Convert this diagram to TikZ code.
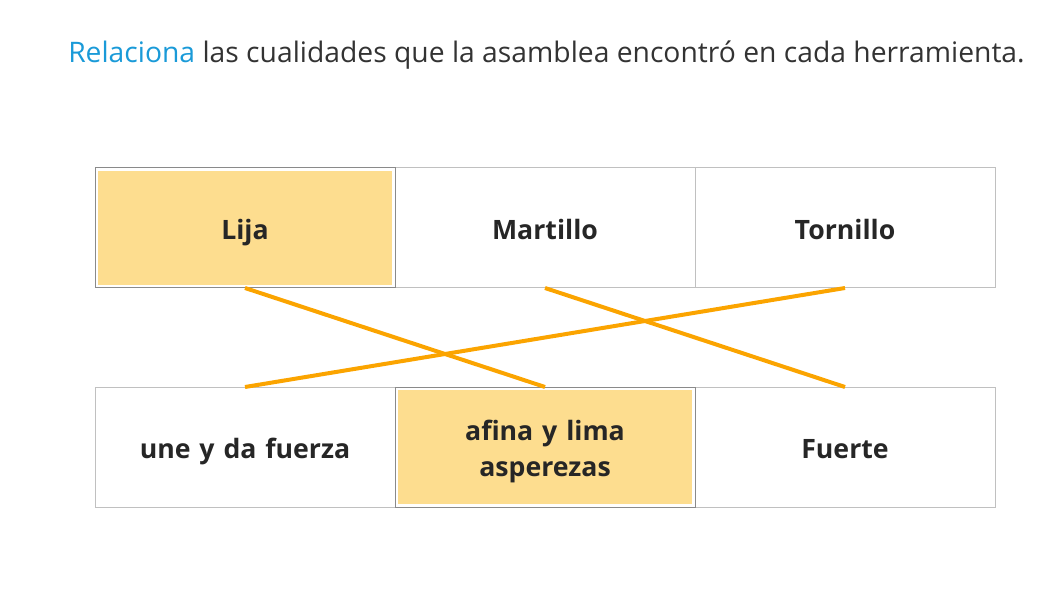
\documentclass[tikz,border=0pt]{standalone}
\usepackage{fontspec}
\setmainfont{Open Sans}
\usepackage{tikz}
\definecolor{linkblue}{HTML}{1A9AD8}
\definecolor{titlegray}{HTML}{333333}
\definecolor{cellgray}{HTML}{C0C0C0}
\definecolor{selgray}{HTML}{8A8A8A}
\definecolor{selfill}{HTML}{FDDD8F}
\definecolor{linkorange}{HTML}{FBA400}

\tikzset{
  cell/.style={draw=cellgray, line width=0.75pt, minimum width=225pt, minimum height=90pt,
    inner sep=0pt, outer sep=0pt, text width=170pt, align=center, text=black!85,
    font=\fontsize{20}{27}\selectfont\bfseries,
    execute at begin node={\rule{0pt}{21.9pt}}, execute at end node={\rule[-5.1pt]{0pt}{5.1pt}}},
  chosen/.style={cell, draw=selgray,
    path picture={\fill[selfill] ([shift={(2.6pt,-2.6pt)}]path picture bounding box.north west)
      rectangle ([shift={(-2.6pt,2.6pt)}]path picture bounding box.south east);}},
  match/.style={draw=linkorange, line width=3pt}
}

\begin{document}
\begin{tikzpicture}[x=0.75pt,y=0.75pt,yscale=-1,xscale=1]
\useasboundingbox (0,0) rectangle (1062,591);

% Title
\node (title) [anchor=west, inner sep=0pt, text=titlegray, font=\fontsize{21.2}{25}\selectfont]
  at (68,55) {\textcolor{linkblue}{Relaciona} las cualidades que la asamblea encontró en cada herramienta.};

% Top row
\node (martillo) [cell] at (545,228) {Martillo};
\node (tornillo) [cell] at (845,228) {Tornillo};
\node (lija) [chosen] at (245,228) {Lija};

% Bottom row
\node (une) [cell] at (245,447) {une y da fuerza};
\node (fuerte) [cell] at (845,447) {Fuerte};
\node (afina) [chosen] at (545,447) {afina y lima\\asperezas};

% Matches
\draw [match] (lija.south) -- (afina.north);
\draw [match] (martillo.south) -- (fuerte.north);
\draw [match] (tornillo.south) -- (une.north);
\end{tikzpicture}
\end{document}
